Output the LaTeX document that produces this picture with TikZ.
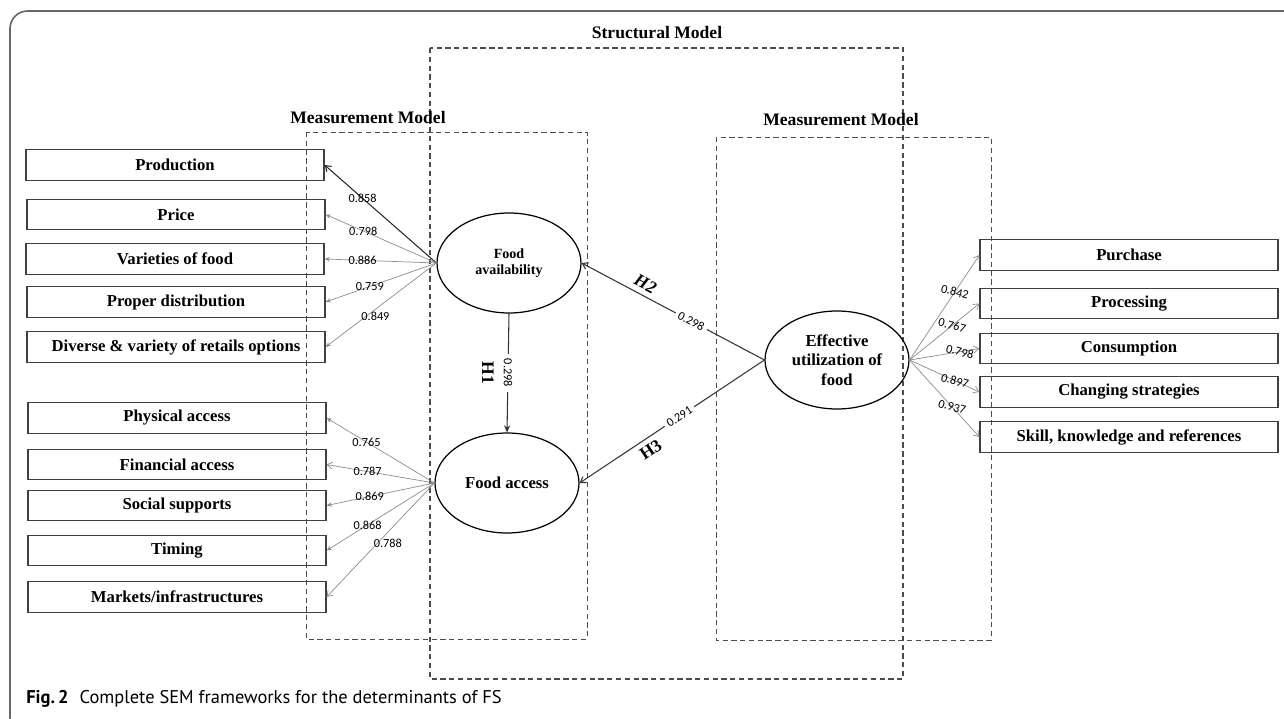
\documentclass[tikz,border=0pt]{standalone}
\usepackage{fontspec}
\setmainfont{Liberation Serif}
\newfontfamily\numfont{Carlito}
\newfontfamily\capfont{PT Sans}
\usetikzlibrary{shapes.geometric,arrows.meta}
\begin{document}
\begin{tikzpicture}[
	x=0.02cm, y=-0.02cm,
	itemnode/.style={shape=rectangle, draw=black!75, line width=0.7pt, minimum width=5.96cm, minimum height=0.61cm, inner sep=0pt, font=\bfseries\fontsize{9.5}{11}\selectfont},
	latentnode/.style={shape=ellipse, draw=black, line width=0.7pt, minimum width=2.88cm, minimum height=2cm, inner sep=0pt, align=center, font=\bfseries\fontsize{9.5}{11}\selectfont},
	loadarrow/.style={draw=black!45, line width=0.4pt, -{Stealth[length=3pt,width=2.5pt]}},
	openarrow/.style={draw=black!45, line width=0.4pt, -{Straight Barb[length=3pt,width=4pt]}},
	patharrow/.style={draw=black!80, line width=0.6pt, -{Straight Barb[length=3pt,width=4pt]}},
	pathlabel/.style={font=\numfont\fontsize{7}{8}\selectfont, inner sep=1pt},
	hyplabel/.style={font=\bfseries\fontsize{10}{12}\selectfont, inner sep=0pt},
	modeltitle/.style={font=\bfseries\fontsize{10}{12}\selectfont},
	modelbox/.style={draw=black!70, line width=0.5pt, densely dashed},
	structbox/.style={draw=black!70, line width=0.6pt, dash pattern=on 3pt off 2pt},
]
\path[use as bounding box, clip] (0,0) rectangle (1284,719);
% frame
\draw[black!60, line width=0.9pt, rounded corners=10] (1300,11) -- (10,11) -- (10,735) -- (1300,735);

% model boxes
\draw[structbox] (430,48) rectangle (903,679);
\node[modeltitle] (stitle) at (657,33) {Structural Model};
\draw[modelbox] (306,132) rectangle (587,639);
\node[modeltitle] (mtitle1) at (368,118) {Measurement Model};
\draw[modelbox] (716,137) rectangle (991,640);
\node[modeltitle] (mtitle2) at (841,120) {Measurement Model};

% latent variables
\node[latentnode, font=\bfseries\fontsize{8}{9.5}\selectfont] (fav) at (509,263) {Food\\availability};
\node[latentnode] (fac) at (507,483) {Food access};
\node[latentnode, minimum height=1.96cm] (euf) at (837,360) {Effective\\utilization of\\food};

% indicators, left
\node[itemnode] (prod) at (175,165) {Production};
\node[itemnode] (price) at (176,214.5) {Price};
\node[itemnode] (vari) at (175,259) {Varieties of food};
\node[itemnode] (dist) at (176,302) {Proper distribution};
\node[itemnode] (retail) at (176,347) {Diverse \& variety of retails options};
\node[itemnode] (phys) at (177,418) {Physical access};
\node[itemnode] (fin) at (177,464.5) {Financial access};
\node[itemnode] (soc) at (177,505.5) {Social supports};
\node[itemnode] (timing) at (177,550.5) {Timing};
\node[itemnode] (market) at (177,597) {Markets/infrastructures};

% indicators, right
\node[itemnode] (purch) at (1129,255) {Purchase};
\node[itemnode] (proc) at (1129,303.5) {Processing};
\node[itemnode] (cons) at (1129,348.5) {Consumption};
\node[itemnode] (chang) at (1129,392) {Changing strategies};
\node[itemnode] (skill) at (1129,437) {Skill, knowledge and references};

% loadings, food availability
\draw[openarrow, draw=black!85, line width=0.6pt] (fav.west) -- (prod.east) node[pathlabel, pos=0.66] {0.858};
\draw[loadarrow] (fav.west) -- (price.east) node[pathlabel, pos=0.66] {0.798};
\draw[loadarrow] (fav.west) -- (vari.east) node[pathlabel, pos=0.66] {0.886};
\draw[loadarrow] (fav.west) -- (dist.east) node[pathlabel, pos=0.6] {0.759};
\draw[loadarrow] (fav.west) -- (retail.east) node[pathlabel, pos=0.55, yshift=-4] {0.849};

% loadings, food access
\draw[loadarrow] (fac.west) -- (phys.east) node[pathlabel, pos=0.63] {0.765};
\draw[openarrow] (fac.west) -- (fin.east) node[pathlabel, pos=0.62] {0.787};
\draw[loadarrow] (fac.west) -- (soc.east) node[pathlabel, pos=0.6] {0.869};
\draw[loadarrow] (fac.west) -- (timing.east) node[pathlabel, pos=0.62] {0.868};
\draw[openarrow] (fac.west) -- (market.east) node[pathlabel, pos=0.53, xshift=6] {0.788};

% loadings, effective utilization
\draw[openarrow] (euf.east) -- (purch.west) node[pathlabel, pos=0.65, rotate=-15] {0.842};
\draw[openarrow] (euf.east) -- (proc.west) node[pathlabel, pos=0.61, rotate=-15] {0.767};
\draw[openarrow] (euf.east) -- (cons.west) node[pathlabel, pos=0.72, rotate=-15] {0.798};
\draw[openarrow] (euf.east) -- (chang.west) node[pathlabel, pos=0.65, rotate=-15] {0.897};
\draw[openarrow] (euf.east) -- (skill.west) node[pathlabel, pos=0.61, rotate=-15] {0.937};

% structural paths
\draw[patharrow, -{Stealth[length=4pt,width=3.5pt]}] (fav.south) -- (fac.north) node[pathlabel, pos=0.5, rotate=-90, fill=white, inner sep=3pt] {0.298};
\node[hyplabel, rotate=-90] (h1) at (488,373) {H1};
\draw[patharrow] (euf.west) -- (fav.east) node[pathlabel, pos=0.4, sloped, fill=white, inner sep=2pt] {0.298} node[hyplabel, pos=0.68, sloped, above=3pt] {\itshape H2};
\draw[patharrow] (euf.west) -- (fac.east) node[pathlabel, pos=0.46, sloped, fill=white, inner sep=2pt] {0.291} node[hyplabel, pos=0.65, sloped, below=3pt] {H3};

% caption
\node[anchor=base west, inner sep=0pt, font=\capfont\fontsize{10.5}{12}\selectfont] (caption) at (26,703) {\textbf{Fig.\,2}\hspace{0.6em}Complete SEM frameworks for the determinants of FS};
\end{tikzpicture}
\end{document}
